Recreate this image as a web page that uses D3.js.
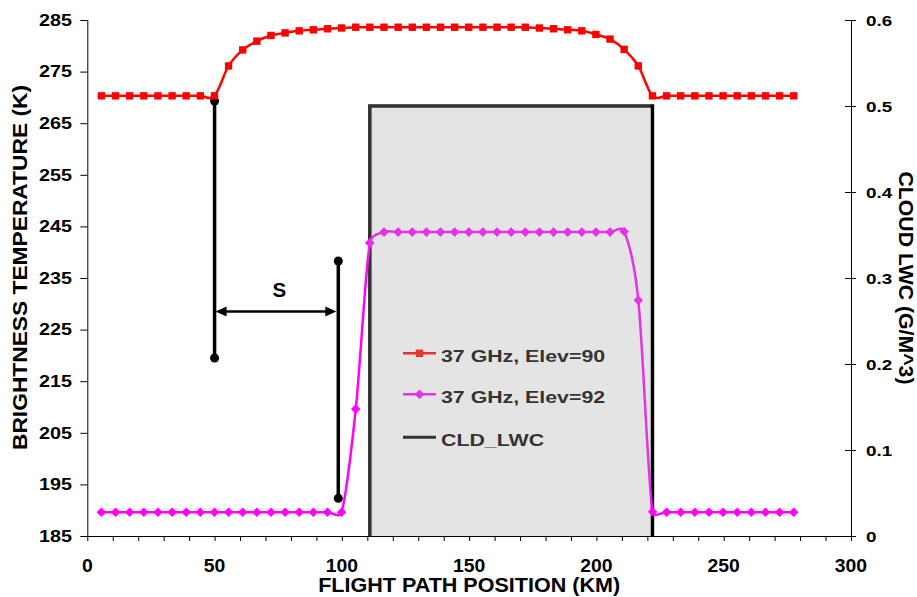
<!DOCTYPE html>
<html><head><meta charset="utf-8">
<script src="https://cdn.jsdelivr.net/npm/d3@7"></script>
<style>body{margin:0;background:#fff}svg{display:block}text{font-family:"Liberation Sans",Arial,sans-serif;font-weight:bold}</style>
</head><body><svg id="c" width="917" height="597"></svg>
<script>
// ---- data ----
const positionsKm = d3.range(1, 51).map(i => +(i * 5.55).toFixed(2));
const elev90 = [270.3,270.3,270.3,270.3,270.3,270.3,270.3,270.3,270.3,276.1,
  279.2,280.9,282.0,282.5,282.9,283.1,283.3,283.45,283.6,283.6,
  283.6,283.6,283.6,283.6,283.6,283.6,283.6,283.6,283.6,283.6,
  283.6,283.45,283.3,283.1,282.9,282.2,281.3,279.3,276.1,270.3,
  270.3,270.3,270.3,270.3,270.3,270.3,270.3,270.3,270.3,270.3];
const elev92 = [189.6,189.6,189.6,189.6,189.6,189.6,189.6,189.6,189.6,189.6,
  189.6,189.6,189.6,189.6,189.6,189.6,189.6,189.6,209.6,241.8,
  243.9,243.9,243.9,243.9,243.9,243.9,243.9,243.9,243.9,243.9,
  243.9,243.9,243.9,243.9,243.9,243.9,243.9,244.0,230.7,189.7,
  189.6,189.6,189.6,189.6,189.6,189.6,189.6,189.6,189.6,189.6];
const lwcKm = [111.0, 111.0, 222.0, 222.0];
const lwcVal = [0, 0.5, 0.5, 0];
const seriesNames = ["37 GHz, Elev=90", "37 GHz, Elev=92", "CLD_LWC"];
const xTicks = [0, 50, 100, 150, 200, 250, 300];
const yTicks = [185, 195, 205, 215, 225, 235, 245, 255, 265, 275, 285];
const y2Ticks = [0, 0.1, 0.2, 0.3, 0.4, 0.5, 0.6];
// annotation: vertical bars [km, Tlow, Thigh], arrow [km1, km2, T], label
const annotBars = [[50, 219.5, 269.3], [98.6, 192.3, 238.3]];
const annotArrow = [50, 98.6, 228.5];
const annotLabel = {text: "S", km: 75.4, T: 231.3};

// ---- layout ----
const svg = d3.select("#c");
const L = 87.3, R = 851, T = 20, B = 536;
const x = d3.scaleLinear([0, 300], [L, R]);
const y = d3.scaleLinear([185, 285], [B, T]);
const y2 = d3.scaleLinear([0, 0.6], [B, T]);

// Excel-like smoothed line (Bezier, 1/6 tangents limited to half the segment)
function smoothPath(pts) {
  const p = d3.path();
  const n = pts.length;
  const ctrl = (i, j, k) => { // tangent at i using neighbours j,k limited by segment length to `seg`
    const a = pts[Math.max(0, j)], b = pts[Math.min(n - 1, k)];
    return [b[0] - a[0], b[1] - a[1]];
  };
  p.moveTo(pts[0][0], pts[0][1]);
  for (let i = 0; i < n - 1; i++) {
    const P1 = pts[i], P2 = pts[i + 1];
    const seg = Math.hypot(P2[0] - P1[0], P2[1] - P1[1]);
    let t1 = ctrl(i, i - 1, i + 1), t2 = ctrl(i + 1, i, i + 2);
    const lim = (t) => {
      let L6 = Math.hypot(t[0], t[1]) / 6;
      let s = L6 > seg / 2 ? (seg / 2) / (L6 * 6) : 1 / 6;
      return [t[0] * s, t[1] * s];
    };
    t1 = lim(t1); t2 = lim(t2);
    p.bezierCurveTo(P1[0] + t1[0], P1[1] + t1[1], P2[0] - t2[0], P2[1] - t2[1], P2[0], P2[1]);
  }
  return p.toString();
}

// scaled text helper
function stext(parent, tx, ty, str, size, sx, anchor, rot) {
  return parent.append("text")
    .attr("transform", `translate(${tx},${ty})` + (rot ? ` rotate(${rot})` : "") + ` scale(${sx},1)`)
    .attr("text-anchor", anchor || "start").attr("font-size", size).attr("fill", "#000").text(str);
}

// LWC step line
const lwcPts = lwcKm.map((k, i) => [k, lwcVal[i]]);
svg.append("path").datum(lwcPts)
  .attr("d", d3.line().x(d => x(d[0])).y(d => y2(d[1])))
  .attr("fill", "none").attr("stroke", "#000").attr("stroke-width", 3.5);

// annotations
const g = svg.append("g");
annotBars.forEach(b => {
  g.append("line").attr("x1", x(b[0])).attr("x2", x(b[0]))
    .attr("y1", y(b[1])).attr("y2", y(b[2])).attr("stroke", "#000").attr("stroke-width", 3.5);
  [b[1], b[2]].forEach(v => g.append("circle").attr("cx", x(b[0])).attr("cy", y(v)).attr("r", 4.5).attr("fill", "#000"));
});
{
  const ax1 = x(annotArrow[0]) + 1, ax2 = x(annotArrow[1]) - 2, ay = y(annotArrow[2]);
  g.append("line").attr("x1", ax1 + 6).attr("x2", ax2 - 6).attr("y1", ay).attr("y2", ay)
    .attr("stroke", "#000").attr("stroke-width", 2.5);
  g.append("path").attr("d", `M${ax1},${ay}L${ax1 + 11},${ay - 5}L${ax1 + 11},${ay + 5}Z`).attr("fill", "#000");
  g.append("path").attr("d", `M${ax2},${ay}L${ax2 - 11},${ay - 5}L${ax2 - 11},${ay + 5}Z`).attr("fill", "#000");
  g.append("text").attr("x", x(annotLabel.km)).attr("y", y(annotLabel.T))
    .attr("text-anchor", "middle").attr("font-size", 20.5).text(annotLabel.text);
}

// series
const s92 = positionsKm.map((k, i) => [x(k), y(elev92[i])]);
const s90 = positionsKm.map((k, i) => [x(k), y(elev90[i])]);
svg.append("path").attr("d", smoothPath(s92)).attr("fill", "none").attr("stroke", "#ff00ff").attr("stroke-width", 2.5);
const diamond = (cx, cy, r) => `M${cx},${cy - r}L${cx + r},${cy}L${cx},${cy + r}L${cx - r},${cy}Z`;
svg.append("g").selectAll("path").data(s92).join("path")
  .attr("d", d => diamond(d[0], d[1], 4.8)).attr("fill", "#ff00ff");
svg.append("path").attr("d", smoothPath(s90)).attr("fill", "none").attr("stroke", "#ff0000").attr("stroke-width", 2.5);
svg.append("g").selectAll("rect").data(s90).join("rect")
  .attr("x", d => d[0] - 3.7).attr("y", d => d[1] - 3.7)
  .attr("width", 7.4).attr("height", 7.4).attr("fill", "#ff0000");

// legend
const lg = svg.append("g");
const legY = [353.3, 394.3, 437.3];
const legCol = ["#ff0000", "#ff00ff", "#000"];
seriesNames.forEach((n, i) => {
  lg.append("line").attr("x1", 403).attr("x2", 436).attr("y1", legY[i]).attr("y2", legY[i])
    .attr("stroke", legCol[i]).attr("stroke-width", i === 2 ? 3 : 2.5);
  if (i === 0) lg.append("rect").attr("x", 419.5 - 3.7).attr("y", legY[i] - 3.7).attr("width", 7.4).attr("height", 7.4).attr("fill", legCol[i]);
  if (i === 1) lg.append("path").attr("d", diamond(419.5, legY[i], 4.8)).attr("fill", legCol[i]);
  stext(lg, 441, legY[i] + 8.2, n, 16.8, 1.27);
});

// translucent cloud overlay
svg.append("rect")
  .attr("x", x(lwcKm[0]) - 1.5).attr("y", y2(lwcVal[1]) - 1.8)
  .attr("width", x(lwcKm[2]) - x(lwcKm[0]) - 0.5)
  .attr("height", B - y2(lwcVal[1]) + 1.8)
  .attr("fill", "#a7a7a7").attr("fill-opacity", 0.306);

// axes
const xAxis = svg.append("g").attr("transform", `translate(0,${B})`)
  .call(d3.axisBottom(x).tickValues(d3.range(0, 301, 10)).tickSize(5).tickFormat(""));
xAxis.select(".domain").attr("d", `M${L},0.5H${R}`);
xTicks.forEach(v => stext(svg, x(v), 572, String(v), 18.6, 1.04, "middle"));

const yAxis = svg.append("g").attr("transform", `translate(${L},0)`)
  .call(d3.axisLeft(y).tickValues(yTicks).tickSize(7).tickFormat(""));
yAxis.select(".domain").attr("d", `M0.5,${T}V${B}`);
yTicks.forEach(v => stext(svg, 72, y(v) + 5.7, String(v), 15.8, 1.25, "end"));

const y2Axis = svg.append("g").attr("transform", `translate(${R},0)`)
  .call(d3.axisRight(y2).tickValues(y2Ticks).tickSize(5).tickFormat(""));
y2Axis.selectAll(".tick line").attr("x1", -6);
y2Axis.select(".domain").attr("d", `M0.5,${T}V${B}`);
y2Ticks.forEach(v => stext(svg, 866, y2(v) + 5.5, v === 0 ? "0" : d3.format(".1f")(v), 15.2, 1.24, "start"));
svg.selectAll(".domain, .tick line").attr("stroke", "#000");

// titles
svg.append("text").attr("x", (L + R) / 2).attr("y", 592).attr("text-anchor", "middle")
  .attr("font-size", 19.5).attr("textLength", 302).attr("lengthAdjust", "spacingAndGlyphs")
  .text("FLIGHT PATH POSITION (KM)");
svg.append("text").attr("transform", "translate(27,267.5) rotate(-90)").attr("text-anchor", "middle")
  .attr("font-size", 19.5).attr("textLength", 365).attr("lengthAdjust", "spacingAndGlyphs")
  .text("BRIGHTNESS TEMPERATURE (K)");
svg.append("text").attr("transform", "translate(899,278) rotate(90)").attr("text-anchor", "middle")
  .attr("font-size", 19.5).attr("textLength", 213).attr("lengthAdjust", "spacingAndGlyphs")
  .text("CLOUD LWC (G/M^3)");
</script></body></html>
